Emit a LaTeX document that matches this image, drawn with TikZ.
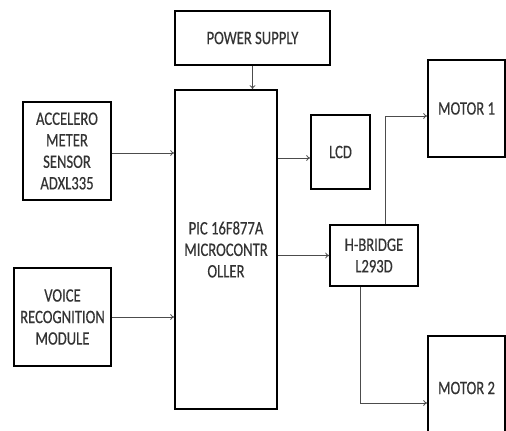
\documentclass[tikz,border=0pt]{standalone}
\usepackage{fontspec}
\setmainfont{Carlito}[FakeStretch=0.77,FakeBold=0.4]
\usetikzlibrary{arrows.meta,calc}
\tikzset{
  blk/.style={draw=black, line width=1.6pt, rectangle, inner sep=0pt, align=center,
    text=black!80, font=\fontsize{19}{21.5}\selectfont},
  arr/.style={draw=black!70, line width=0.8pt, -{To[length=4pt,width=6pt]}}
}
\begin{document}
\begin{tikzpicture}[x=1pt,y=-1pt]
\useasboundingbox (0,0) rectangle (506,431);
\fill[white] (0,0) rectangle (506,431);
\node[blk, minimum width=155, minimum height=54] (pwr) at (252.5,38) {POWER SUPPLY};
\node[blk, minimum width=102, minimum height=319] (mcu) at (226,249.5) {PIC 16F877A\\MICROCONTR\\OLLER};
\node[blk, minimum width=88, minimum height=98] (acc) at (67,151) {ACCELERO\\METER\\SENSOR\\ADXL335};
\node[blk, minimum width=59, minimum height=74] (lcd) at (340.5,152) {LCD};
\node[blk, minimum width=77, minimum height=97] (m1) at (466.5,108.5) {MOTOR 1};
\node[blk, minimum width=88, minimum height=61] (hb) at (374,255.5) {H-BRIDGE\\L293D};
\node[blk, minimum width=97, minimum height=98] (voice) at (62.5,317) {VOICE\\RECOGNITION\\MODULE};
\node[blk, minimum width=77, minimum height=104] (m2) at (466.5,388) {MOTOR 2};

\draw[arr] (pwr.south) -- (pwr.south |- mcu.north);
\draw[arr] ($(acc.east)+(0,2)$) -- ($(acc.east -| mcu.west)+(0,2)$);
\draw[arr] ($(lcd.west -| mcu.east)+(0,6)$) -- ($(lcd.west)+(0,6)$);
\draw[arr] (hb.west -| mcu.east) -- (hb.west);
\draw[arr] (voice.east) -- (voice.east -| mcu.west);
\draw[arr] ($(hb.north)+(11,0)$) |- ($(m1.west)+(0,7.5)$);
\draw[arr] ($(hb.south)+(-14,0)$) |- ($(m2.west)+(0,15)$);
\end{tikzpicture}
\end{document}
